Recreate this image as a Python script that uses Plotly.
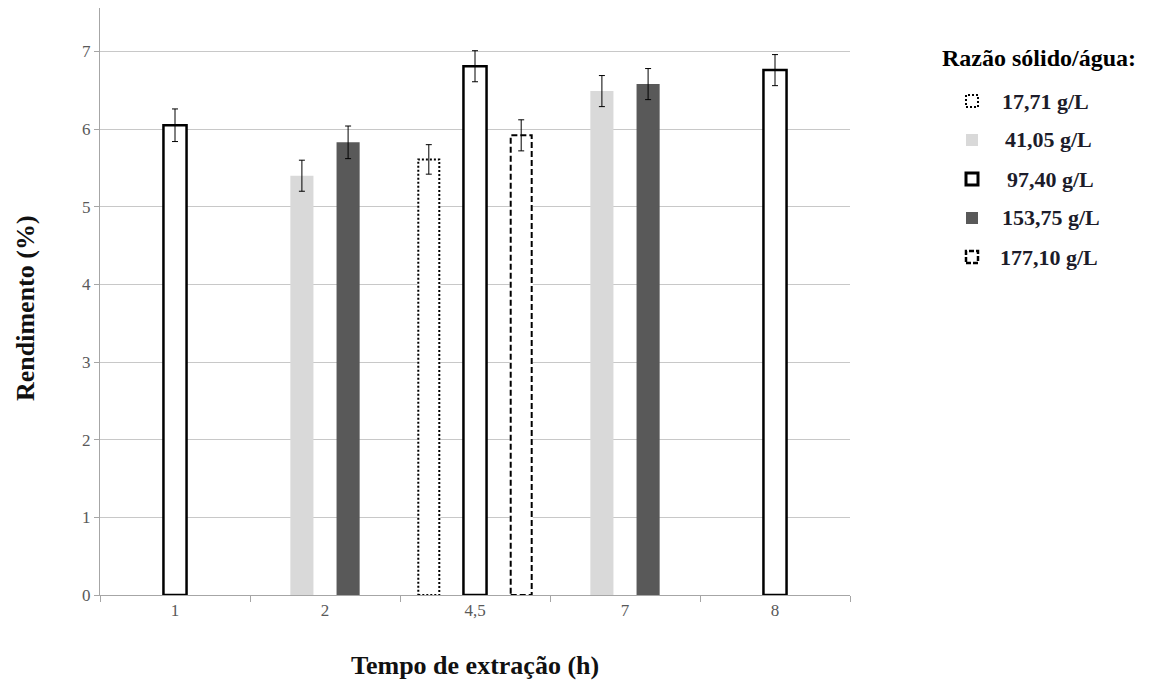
import plotly.graph_objects as go

categories = ["1", "2", "4,5", "7", "8"]
series_names = ["17,71 g/L", "41,05 g/L", "97,40 g/L", "153,75 g/L", "177,10 g/L"]
v_1771 = [None, None, 5.61, None, None]
e_1771 = [None, None, 0.19, None, None]
v_4105 = [None, 5.40, None, 6.49, None]
e_4105 = [None, 0.20, None, 0.20, None]
v_9740 = [6.05, None, 6.81, None, 6.76]
e_9740 = [0.21, None, 0.20, None, 0.20]
v_15375 = [None, 5.83, None, 6.58, None]
e_15375 = [None, 0.21, None, 0.20, None]
v_17710 = [None, None, 5.92, None, None]
e_17710 = [None, None, 0.20, None, None]
y_ticks = [0, 1, 2, 3, 4, 5, 6, 7]

values = [v_1771, v_4105, v_9740, v_15375, v_17710]
errors = [e_1771, e_4105, e_9740, e_15375, e_17710]

fills = ["white", "#d9d9d9", "white", "#595959", "white"]
line_w = [0, 0, 2.5, 0, 0]
dash_styles = {0: "2px,2px", 4: "6px,3px"}

BARGAP = 0.23
n = len(values)
slot = (1 - BARGAP) / n

fig = go.Figure()
for k in range(n):
    fig.add_trace(go.Bar(
        x=categories, y=values[k], name=series_names[k],
        marker=dict(color=fills[k], line=dict(color="black", width=line_w[k])),
        error_y=dict(type="data", array=[e if e is not None else 0 for e in errors[k]],
                     color="black", thickness=1, width=3, visible=True),
        showlegend=False,
    ))

shapes = []
# dashed / dotted bar outlines derived from the data
for k, dash in dash_styles.items():
    for i, v in enumerate(values[k]):
        if v is None:
            continue
        c = i + (k - (n - 1) / 2) * slot
        shapes.append(dict(type="rect", xref="x", yref="y",
                           x0=c - slot / 2 + 0.007, x1=c + slot / 2 - 0.007, y0=0, y1=v,
                           line=dict(color="black", width=2, dash=dash),
                           fillcolor="rgba(0,0,0,0)", layer="above"))

# plot area in page pixels: x 100..850, y 8..595
def px_x(p):
    return (p - 100) / 750

def px_y(p):
    return (595 - p) / 587

annotations = [
    dict(text="<b>Razão sólido/água:</b>", x=px_x(1039), y=px_y(58), xref="paper", yref="paper",
         xanchor="center", yanchor="middle", showarrow=False,
         font=dict(family="Liberation Serif", size=24, color="black")),
    dict(text="<b>Tempo de extração (h)</b>", x=px_x(475), y=px_y(665), xref="paper", yref="paper",
         xanchor="center", yanchor="middle", showarrow=False,
         font=dict(family="Liberation Serif", size=26, color="#111")),
    dict(text="<b>Rendimento (%)</b>", x=px_x(25), y=px_y(308), xref="paper", yref="paper",
         xanchor="center", yanchor="middle", showarrow=False, textangle=-90,
         font=dict(family="Liberation Serif", size=26, color="#111")),
]
rows = [101, 140, 179, 218, 257]
text_x = [1000, 1003, 1005, 1000, 998]
icon_line = [dict(color="black", width=2, dash="2px,2px"), dict(width=0),
             dict(color="black", width=3), dict(width=0),
             dict(color="black", width=2.5, dash="5px,2px")]
for k in range(n):
    cy = rows[k]
    shapes.append(dict(type="rect", xref="paper", yref="paper",
                       x0=px_x(966), x1=px_x(978), y0=px_y(cy + 6), y1=px_y(cy - 6),
                       fillcolor=fills[k], line=icon_line[k]))
    annotations.append(dict(text="<b>" + series_names[k] + "</b>", x=px_x(text_x[k]), y=px_y(cy),
                            xref="paper", yref="paper", xanchor="left", yanchor="middle",
                            showarrow=False,
                            font=dict(family="Liberation Serif", size=22, color="#1c1c2a")))

fig.update_layout(
    width=1157, height=680,
    margin=dict(l=92, r=315, t=0, b=93),
    paper_bgcolor="white", plot_bgcolor="white",
    barmode="group", bargap=BARGAP, bargroupgap=0,
    shapes=shapes, annotations=annotations,
    font=dict(family="Liberation Serif", size=16, color="#595959"),
    xaxis=dict(type="category", range=[-0.5, 4.5], tickson="boundaries", ticks="outside",
               ticklen=6, tickcolor="#a6a6a6", showline=True, linecolor="#a6a6a6", linewidth=1,
               showgrid=False, tickfont=dict(family="Liberation Serif", size=17, color="#595959")),
    yaxis=dict(range=[0, 7.56], tickvals=y_ticks, ticks="outside", ticklen=5, tickcolor="#a6a6a6",
               showline=True, linecolor="#a6a6a6", linewidth=1, showgrid=True, gridcolor="#c8c8c8",
               gridwidth=1, zeroline=False,
               tickfont=dict(family="Liberation Serif", size=17, color="#595959")),
)

fig.write_html("out.html")
